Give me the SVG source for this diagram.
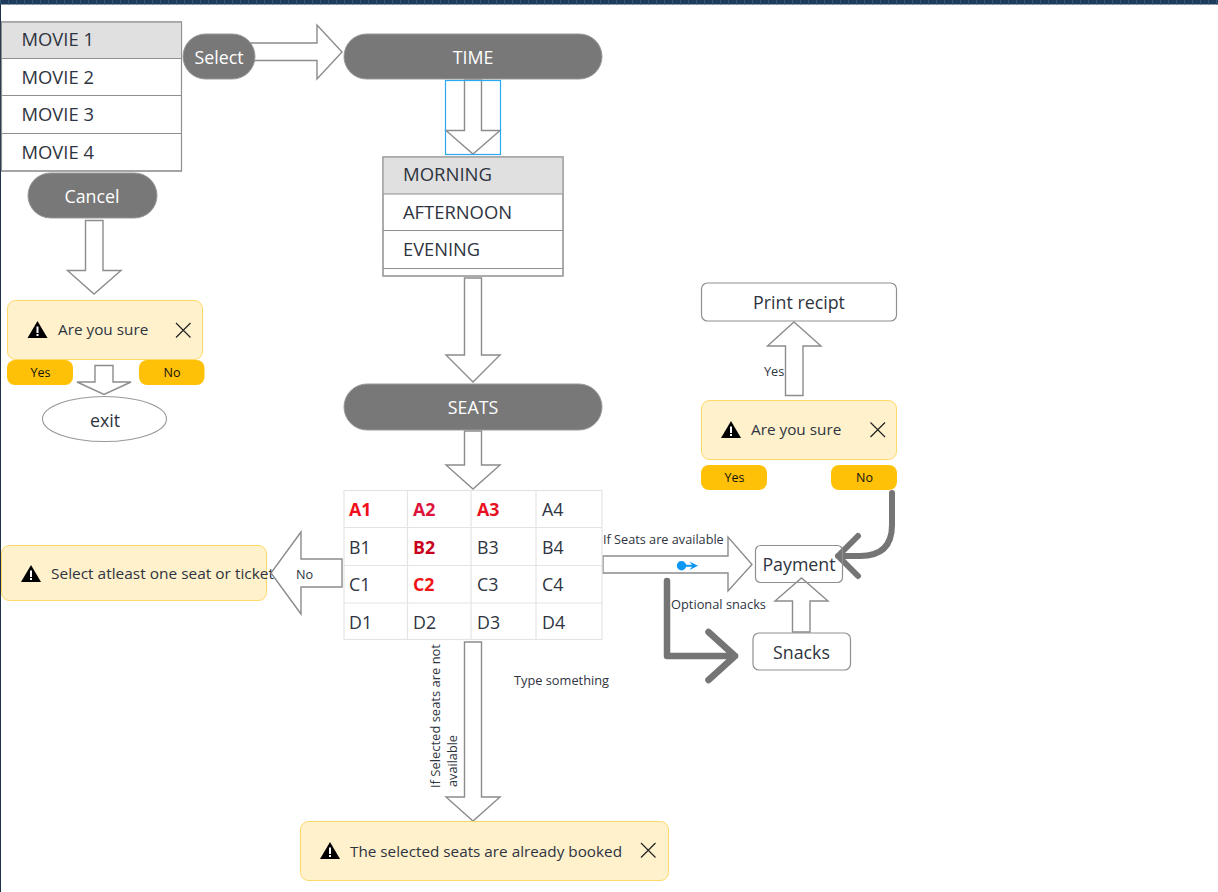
<svg xmlns="http://www.w3.org/2000/svg" width="1218" height="892" viewBox="0 0 1218 892">
<style>
text{font-family:"Open Sans","Noto Sans","Liberation Sans",sans-serif;fill:#2e3440}
.m{font-size:17.800px}
.u{font-size:18.400px}
.c{text-anchor:middle}
.w{fill:#fff}
.s{font-size:12.700px}
.a{font-size:15.300px}
.bt{font-size:12.500px;fill:#111;text-anchor:middle}
.arrow{fill:#fff;stroke:#8c8c8c;stroke-width:1.400}
.pill{fill:#787878;stroke:#999;stroke-width:1}
.box{fill:#fff;stroke:#8f8f8f;stroke-width:1.200}
.alert{fill:#fff1cc;stroke:#ffd966;stroke-width:1}
.btn{fill:#ffc107}
.row{stroke:#8f8f8f;stroke-width:1;fill:none}
.grid{stroke:#e4e4e4;stroke-width:1.200;fill:none}
.thick{fill:none;stroke:#757575;stroke-linecap:round;stroke-linejoin:round}
.x{stroke:#222;stroke-width:1.200}
.red{font-weight:700;font-size:17.800px}
</style>
<defs>
<g id="warn"><path d="M10 0L20 17H0Z" fill="#000"/><rect x="9" y="5.500" width="2" height="6.500" fill="#fff"/><rect x="9" y="13" width="2" height="2" fill="#fff"/></g>
<g id="close"><path class="x" d="M0 0L14.500 14.500M14.500 0L0 14.500"/></g>
</defs>
<rect width="1218" height="892" fill="#fff"/>
<rect width="1218" height="4.500" fill="#1f3b5c"/>
<path d="M0 2.250H1218" stroke="#35557a" stroke-width="4.500" stroke-dasharray="1 7"/>
<rect y="4" width="1" height="888" fill="#1f3048"/>

<g id="connectors">
<path class="arrow" d="M250 43H317V25L342 52L317 79V60.500H250Z"/>
<path class="arrow" d="M464.500 80V130.500H446L473 154L500 130.500H481.500V80Z"/>
<rect x="445.500" y="80.500" width="55" height="74" fill="none" stroke="#29a8f5" stroke-width="1.200"/>
<path class="arrow" d="M464.500 278V355H446L473 382L500 355H481.500V278Z"/>
<path class="arrow" d="M464.500 431V465H446L473 489L500 465H481.500V431Z"/>
<path class="arrow" d="M85.500 220.500V270.500H67.500L94 294L121 270.500H103V220.500Z"/>
<path class="arrow" d="M95 365.500V382H77L104 394.500L131 382H113V365.500Z"/>
<path class="arrow" d="M464.500 642V797H446L473 821L500 797H481.500V642Z"/>
<path class="arrow" d="M603 556H728V537L752 564.500L728 591V573H603Z"/>
<path class="arrow" d="M785.500 395.500V346H767.500L794 322L821 346H803V395.500Z"/>
<path class="arrow" d="M792.500 632V601H775L801.500 578L828 601H810V632Z"/>
<path class="thick" stroke-width="6" d="M892 493V525Q892 556 860 556H838M858 536L838 556L858 576"/>
<path class="thick" stroke-width="6.500" d="M667 581V656H735M708.500 632L735 656L708.500 680"/>
<circle cx="681.500" cy="565.700" r="4.700" fill="#0d96f2"/>
<path d="M685 564.700H692L689.500 561.500L698 565.700L689.500 570L692 566.700H685Z" fill="#0d96f2"/>
<text class="s" x="603" y="543.500">If Seats are available</text>
<text class="s" x="671" y="608.500" textLength="95" lengthAdjust="spacingAndGlyphs">Optional snacks</text>
<text class="s" x="764" y="376">Yes</text>
<text class="s" x="514" y="684.500" textLength="95" lengthAdjust="spacingAndGlyphs">Type something</text>
<text class="s" transform="translate(440 788) rotate(-90)" textLength="144" lengthAdjust="spacingAndGlyphs">If Selected seats are not</text>
<text class="s" transform="translate(457 787) rotate(-90)">available</text>
</g>

<g id="movie-list">
<rect class="box" x="1.500" y="22" width="180" height="149"/>
<rect x="2" y="22.500" width="179" height="36" fill="#e0e0e0"/>
<path class="row" d="M1.500 58.500H181.500M1.500 95.500H181.500M1.500 133.500H181.500"/>
<rect x="1.500" y="22" width="180" height="149" fill="none" stroke="#8f8f8f" stroke-width="1"/>
<text class="u" x="21.500" y="45.500">MOVIE 1</text>
<text class="u" x="21.500" y="83.500">MOVIE 2</text>
<text class="u" x="21.500" y="120.500">MOVIE 3</text>
<text class="u" x="21.500" y="158.500">MOVIE 4</text>
</g>
<g id="select"><rect class="pill" x="183" y="34" width="72" height="45" rx="22.500"/><text class="m w c" x="219" y="63.500">Select</text></g>
<g id="time"><rect class="pill" x="344" y="34" width="258" height="45" rx="22.500"/><text class="m w c" x="473" y="63.500">TIME</text></g>
<g id="cancel"><rect class="pill" x="28" y="173" width="129" height="45" rx="22.500"/><text class="m w c" x="92" y="202.500">Cancel</text></g>
<g id="time-list">
<rect class="box" x="383" y="157" width="180" height="119"/>
<rect x="383.500" y="157.500" width="179" height="36.500" fill="#e0e0e0"/>
<path class="row" d="M383 194H563M383 230.500H563M383 268.500H563"/>
<rect x="383" y="157" width="180" height="119" fill="none" stroke="#9a9a9a" stroke-width="1"/>
<text class="u" x="403" y="180.500" textLength="89" lengthAdjust="spacingAndGlyphs">MORNING</text>
<text class="u" x="403" y="218.500" textLength="109" lengthAdjust="spacingAndGlyphs">AFTERNOON</text>
<text class="u" x="403" y="255.500" textLength="77" lengthAdjust="spacingAndGlyphs">EVENING</text>
</g>
<g id="seats"><rect class="pill" x="344" y="384" width="258" height="46" rx="23"/><text class="m w c" x="473" y="413.500">SEATS</text></g>

<g id="alert-cancel">
<rect class="alert" x="7.500" y="300.500" width="195" height="59" rx="8"/>
<use href="#warn" x="27.500" y="321"/>
<text class="a" x="58" y="335">Are you sure</text>
<use href="#close" x="176" y="323"/>
</g>
<g id="btn-yes-1"><rect class="btn" x="7" y="360" width="66" height="25" rx="8"/><text class="bt" x="40.500" y="376.500">Yes</text></g>
<g id="btn-no-1"><rect class="btn" x="139" y="360" width="65.500" height="25" rx="8"/><text class="bt" x="172" y="376.500">No</text></g>
<g id="exit"><ellipse cx="104.500" cy="419" rx="62" ry="22.500" fill="#fff" stroke="#999" stroke-width="1.100"/><text class="m c" x="105" y="426.500">exit</text></g>

<g id="alert-select">
<rect class="alert" x="1.500" y="545.500" width="265" height="55" rx="8"/>
<use href="#warn" x="21" y="565"/>
<text class="a" x="51" y="578.500" textLength="223" lengthAdjust="spacingAndGlyphs">Select atleast one seat or ticket</text>
</g>
<g id="arrow-no">
<path class="arrow" d="M342 559V587H301V614L271 573L301 532V559Z"/>
<text class="s" x="296" y="578.500">No</text>
</g>

<g id="seat-table">
<rect class="grid" x="344" y="490.500" width="258" height="149"/>
<path class="grid" d="M407.500 490V640M471 490V640M536 490V640M344 527.500H602M344 565.500H602M344 603H602"/>
<text class="red" x="349" y="516" style="fill:#f20d1a">A1</text>
<text class="red" x="413" y="516" style="fill:#dc143c">A2</text>
<text class="red" x="477" y="516" style="fill:#e8101f">A3</text>
<text class="m" x="542" y="516">A4</text>
<text class="m" x="349" y="553.500">B1</text>
<text class="red" x="413" y="553.500" style="fill:#c8001e">B2</text>
<text class="m" x="477" y="553.500">B3</text>
<text class="m" x="542" y="553.500">B4</text>
<text class="m" x="349" y="591">C1</text>
<text class="red" x="413" y="591" style="fill:#f01515">C2</text>
<text class="m" x="477" y="591">C3</text>
<text class="m" x="542" y="591">C4</text>
<text class="m" x="349" y="628.500">D1</text>
<text class="m" x="413" y="628.500">D2</text>
<text class="m" x="477" y="628.500">D3</text>
<text class="m" x="542" y="628.500">D4</text>
</g>

<g id="print-recipt"><rect class="box" x="701.500" y="283" width="195" height="38" rx="6"/><text class="m c" x="799" y="308.500">Print recipt</text></g>
<g id="alert-pay">
<rect class="alert" x="701.500" y="400.500" width="195" height="59" rx="8"/>
<use href="#warn" x="721" y="421"/>
<text class="a" x="751" y="435">Are you sure</text>
<use href="#close" x="870.500" y="422.500"/>
</g>
<g id="btn-yes-2"><rect class="btn" x="701" y="465" width="66" height="25" rx="8"/><text class="bt" x="734.500" y="482">Yes</text></g>
<g id="btn-no-2"><rect class="btn" x="831" y="465" width="66" height="25" rx="8"/><text class="bt" x="864.500" y="482">No</text></g>
<g id="payment"><rect class="box" x="755.500" y="545.500" width="87" height="37" rx="5" fill-opacity="0"/><text class="m c" x="799" y="570.500">Payment</text></g>
<g id="snacks"><rect class="box" x="753" y="633" width="97.500" height="37" rx="6"/><text class="m c" x="801.500" y="658.500">Snacks</text></g>
<g id="alert-booked">
<rect class="alert" x="300.500" y="821.500" width="368" height="59" rx="8"/>
<use href="#warn" x="320" y="842"/>
<text class="a" x="350" y="856.500" textLength="272" lengthAdjust="spacingAndGlyphs">The selected seats are already booked</text>
<use href="#close" x="641" y="843"/>
</g>
</svg>
